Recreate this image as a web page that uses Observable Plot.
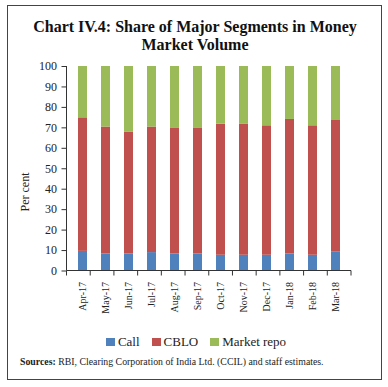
<!DOCTYPE html>
<html>
<head>
<meta charset="utf-8">
<script src="https://cdn.jsdelivr.net/npm/d3@7"></script>
<script src="https://cdn.jsdelivr.net/npm/@observablehq/plot@0.6"></script>
<style>
  html, body { margin: 0; padding: 0; background: #fff; }
  body { width: 388px; height: 387px; position: relative; overflow: hidden; font-family: "Liberation Serif", serif; color: #222; }
  #box { position: absolute; left: 7px; top: 5px; width: 375px; height: 375px; border: 1px solid #444; box-sizing: border-box; }
  #title { position: absolute; left: 0; width: 390px; top: 18px; text-align: center; font-weight: bold; font-size: 16px; line-height: 18px; color: #111; }
  #chart { position: absolute; left: 0; top: 0; }
  #ylabel { position: absolute; left: 25px; top: 192px; width: 0; height: 0; }
  #ylabel span { position: absolute; transform: translate(-50%, -50%) rotate(-90deg); white-space: nowrap; font-size: 12px; color: #222; }
  #legend { position: absolute; left: 0; width: 392px; top: 334px; text-align: center; font-size: 13px; color: #222; }
  #legend span.item { display: inline-block; margin: 0 6px; }
  #legend span.sw { display: inline-block; width: 9px; height: 8px; margin-right: 3px; vertical-align: 0px; }
  #source { position: absolute; left: 20px; top: 356px; font-size: 9.8px; color: #222; white-space: nowrap; }
</style>
</head>
<body>
<div id="box"></div>
<div id="title">Chart IV.4: Share of Major Segments in Money<br>Market Volume</div>
<div id="chart"></div>
<div id="ylabel"><span>Per cent</span></div>
<div id="legend"></div>
<div id="source"><b>Sources:</b> RBI, Clearing Corporation of India Ltd. (CCIL) and staff estimates.</div>
<script>
const months = ["Apr-17","May-17","Jun-17","Jul-17","Aug-17","Sep-17","Oct-17","Nov-17","Dec-17","Jan-18","Feb-18","Mar-18"];
const call = [9.6, 8.3, 8.3, 9.0, 8.3, 8.3, 7.7, 7.7, 7.7, 8.3, 7.7, 9.4];
const cblo = [65.3, 62.1, 59.5, 61.4, 61.4, 61.4, 64.1, 64.0, 63.3, 65.8, 63.3, 64.2];
const marketRepo = [25.1, 29.6, 32.2, 29.6, 30.3, 30.3, 28.2, 28.3, 29.0, 25.9, 29.0, 26.4];
const segments = ["Call", "CBLO", "Market repo"];
const colors = ["#4F81BD", "#C0504D", "#9BBB59"];
const yTicks = [0,10,20,30,40,50,60,70,80,90,100];

const seriesValues = [call, cblo, marketRepo];
const data = [];
months.forEach((m, i) => {
  segments.forEach((s, j) => data.push({month: m, segment: s, value: seriesValues[j][i]}));
});

function axisLines(index, scales, values, dims) {
  const g = d3.create("svg:g").attr("stroke", "#333").attr("stroke-width", 1);
  const x0 = dims.marginLeft, x1 = dims.width - dims.marginRight;
  const yb = dims.height - dims.marginBottom, yt = dims.marginTop;
  g.append("line").attr("x1", x0).attr("x2", x0).attr("y1", yt).attr("y2", yb);
  g.append("line").attr("x1", x0).attr("x2", x1).attr("y1", yb).attr("y2", yb);
  const n = months.length;
  for (let i = 0; i <= n; i++) {
    const xx = x0 + (x1 - x0) * i / n;
    g.append("line").attr("x1", xx).attr("x2", xx).attr("y1", yb).attr("y2", yb + 5);
  }
  return g.node();
}

const chart = Plot.plot({
  width: 388,
  height: 330,
  marginLeft: 66.5,
  marginRight: 37,
  marginTop: 66,
  marginBottom: 59.5,
  style: {fontFamily: "Liberation Serif, serif", background: "transparent", color: "#222"},
  x: {domain: months, paddingInner: 0.59, paddingOuter: 0.295},
  y: {domain: [0, 100]},
  color: {domain: segments, range: colors},
  marks: [
    Plot.barY(data, {x: "month", y: "value", fill: "segment", order: segments}),
    Plot.axisY({ticks: yTicks, tickSize: 5, tickPadding: 5, label: null, fontSize: 12, stroke: "#333"}),
    Plot.axisX({tickSize: 0, tickRotate: -90, tickPadding: 11, label: null, fontSize: 10}),
    axisLines
  ]
});
document.getElementById("chart").appendChild(chart);

const legend = document.getElementById("legend");
segments.forEach((s, j) => {
  const item = document.createElement("span");
  item.className = "item";
  const sw = document.createElement("span");
  sw.className = "sw";
  sw.style.background = colors[j];
  item.appendChild(sw);
  item.appendChild(document.createTextNode(s));
  legend.appendChild(item);
});
</script>
</body>
</html>
